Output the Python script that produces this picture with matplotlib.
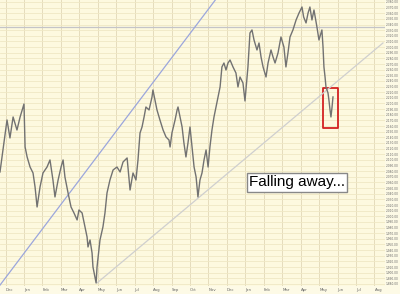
import matplotlib
matplotlib.use('Agg')
import matplotlib.pyplot as plt
from matplotlib.patches import Rectangle

# x in months since start of first Dec, price values
months = [-0.30, -0.14, 0.08, 0.24, 0.41, 0.62, 0.79, 1.00, 1.06, 1.17, 1.33, 1.49, 1.60, 1.71,
          1.87, 2.03, 2.25, 2.41, 2.57, 2.68, 2.85, 3.01, 3.12, 3.22, 3.39, 3.55, 3.71, 3.88,
          3.98, 4.15, 4.31, 4.42, 4.47, 4.58, 4.69, 4.74, 4.91, 4.96, 5.12, 5.28, 5.39, 5.50,
          5.66, 5.83, 6.04, 6.21, 6.37, 6.59, 6.75, 6.91, 7.07, 7.18, 7.29, 7.40, 7.51, 7.61,
          7.78, 7.94, 7.99, 8.10, 8.21, 8.37, 8.54, 8.70, 8.86, 8.92, 9.02, 9.19, 9.30, 9.35,
          9.46, 9.57, 9.67, 9.78, 9.89, 10.00, 10.11, 10.22, 10.33, 10.43, 10.54, 10.65, 10.76,
          10.87, 10.98, 11.08, 11.19, 11.30, 11.41, 11.52, 11.63, 11.73, 11.84, 11.95, 12.06,
          12.17, 12.33, 12.49, 12.60, 12.71, 12.87, 12.98, 13.14, 13.25, 13.36, 13.47, 13.63,
          13.74, 13.85, 13.96, 14.12, 14.23, 14.39, 14.50, 14.61, 14.77, 14.93, 15.09, 15.20,
          15.31, 15.42, 15.58, 15.75, 15.91, 16.07, 16.16, 16.29, 16.40, 16.50, 16.61, 16.72,
          16.88, 16.99, 17.10, 17.15, 17.21, 17.26, 17.32, 17.37, 17.48, 17.53, 17.59, 17.64,
          17.70, 17.75]
prices = [2078.6, 2117.6, 2170.8, 2138.9, 2176.1, 2153.0, 2176.1, 2199.1, 2122.9, 2105.2, 2087.4,
          2076.8, 2052.0, 2016.5, 2052.0, 2076.8, 2087.4, 2099.9, 2064.4, 2034.3, 2064.4, 2087.4,
          2099.9, 2069.7, 2041.3, 2016.5, 2005.9, 1993.5, 2011.2, 2005.9, 1981.1, 1963.3, 1945.6,
          1958.0, 1935.0, 1910.1, 1881.8, 1910.1, 1958.0, 1981.1, 2005.9, 2041.3, 2064.4, 2082.1,
          2087.4, 2078.6, 2096.3, 2103.4, 2046.6, 2076.8, 2064.4, 2099.9, 2147.7, 2158.4, 2176.1,
          2193.8, 2188.5, 2211.6, 2224.0, 2206.2, 2188.5, 2170.8, 2153.0, 2140.6, 2135.3, 2122.9,
          2147.7, 2170.8, 2188.5, 2193.8, 2176.1, 2158.4, 2130.0, 2105.2, 2130.0, 2158.4, 2122.9,
          2087.4, 2069.7, 2034.3, 2064.4, 2076.8, 2099.9, 2117.6, 2087.4, 2122.9, 2153.0, 2176.1,
          2193.8, 2211.6, 2229.3, 2264.8, 2271.8, 2259.4, 2271.8, 2277.2, 2264.8, 2254.1, 2229.3,
          2247.0, 2236.4, 2204.5, 2264.8, 2325.0, 2330.4, 2312.6, 2294.9, 2307.3, 2282.5, 2264.8,
          2247.0, 2271.8, 2294.9, 2282.5, 2271.8, 2289.6, 2317.9, 2300.2, 2264.8, 2289.6, 2317.9,
          2330.4, 2348.1, 2360.5, 2371.1, 2353.4, 2342.8, 2360.5, 2371.1, 2348.1, 2365.8, 2335.7,
          2312.6, 2325.0, 2330.4, 2300.2, 2264.8, 2247.0, 2229.3, 2218.7, 2206.2, 2188.5, 2176.1,
          2193.8, 2211.6]

month_labels = ['Dec', 'Jan', 'Feb', 'Mar', 'Apr', 'May', 'Jun', 'Jul', 'Aug', 'Sep', 'Oct',
                'Nov', 'Dec', 'Jan', 'Feb', 'Mar', 'Apr', 'May', 'Jun', 'Jul', 'Aug']

# trend lines (month, value) end points
blue_line = ([-0.30, 11.36], [1878.0, 2383.0])
gray_line = ([4.96, 20.46], [1881.8, 2307.3])
flat_level = 2336.0

fig = plt.figure(figsize=(4.0, 2.94), dpi=100)
fig.patch.set_facecolor('#fdfae6')
ax = fig.add_axes([0, 8 / 294, 385 / 400, 286 / 294])
ax.set_facecolor('#fdf9df')

ax.set_xlim(-0.30, 20.57)
ax.set_ylim(1876.4, 2383.5)

# grid
yt = list(range(1880, 2390, 10))
ax.set_yticks(yt)
ax.set_yticklabels([f'{v:,.2f}' for v in yt], fontsize=2.1, color='#666666')
ax.yaxis.tick_right()
ax.set_xticks(range(len(month_labels)))
ax.set_xticklabels(month_labels, fontsize=2.8, color='#666666', ha='left')
ax.tick_params(axis='x', length=0, pad=1.5)
ax.tick_params(axis='y', length=0, pad=0.5)
ax.grid(True, axis='y', color='#efe8c4', lw=0.6)
ax.grid(True, axis='x', color='#e5dcbc', lw=0.7)
ax.set_axisbelow(True)
for s in ax.spines.values():
    s.set_visible(False)

ax.axhline(flat_level, color='#c4c4c8', lw=0.9)
ax.plot(blue_line[0], blue_line[1], color='#9ba6dc', lw=0.9)
ax.plot(gray_line[0], gray_line[1], color='#cfcfcf', lw=0.9)

ax.plot(months, prices, color='#727272', lw=1.0)

# red box round the drop
ax.add_patch(Rectangle((17.21, 2156.6), 0.81, 70.9, fill=False, edgecolor='#d42222',
                       lw=1.3, joinstyle='round'))

ax.text(15.80, 2060, 'Falling away...', fontsize=11, family='Liberation Sans',
        ha='center', va='center',
        bbox=dict(boxstyle='square,pad=0.15', facecolor='white', edgecolor='#888888', lw=1))

fig.savefig('out.png', dpi=100, facecolor=fig.get_facecolor())
